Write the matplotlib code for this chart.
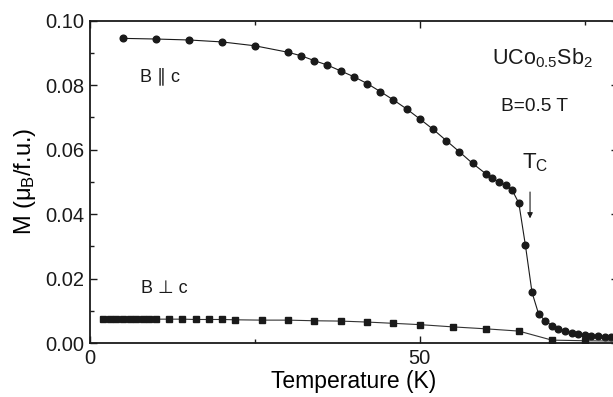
import matplotlib.pyplot as plt
from matplotlib.ticker import MultipleLocator, FormatStrFormatter

plt.rcParams.update({"font.family": ["Liberation Sans", "DejaVu Sans"], "font.size": 12,
                     "mathtext.fontset": "custom", "mathtext.rm": "Liberation Sans",
                     "mathtext.it": "Liberation Sans", "mathtext.bf": "Liberation Sans:bold"})
INK = "#1a1a1a"

# B || c (circles)
t_par = [5, 10, 15, 20, 25, 30, 32, 34, 36, 38, 40, 42, 44, 46, 48, 50, 52, 54, 56, 58,
         60, 61, 62, 63, 64, 65, 66, 67, 68, 69, 70, 71, 72, 73, 74, 75, 76, 77, 78, 79]
m_par = [0.0945, 0.0943, 0.0940, 0.0934, 0.0922, 0.0902, 0.0891, 0.0876, 0.0862, 0.0844,
         0.0826, 0.0805, 0.0780, 0.0754, 0.0726, 0.0695, 0.0663, 0.0628, 0.0593, 0.0557,
         0.0525, 0.0512, 0.0498, 0.0489, 0.0474, 0.0434, 0.0303, 0.0157, 0.0090, 0.0069,
         0.0054, 0.0044, 0.0037, 0.0031, 0.0027, 0.0024, 0.0023, 0.0021, 0.0020, 0.0019]

# B perp c (squares)
t_perp = [2, 3, 4, 5, 6, 7, 8, 9, 10, 12, 14, 16, 18, 20, 22, 26, 30, 34, 38, 42, 46,
          50, 55, 60, 65, 70, 75, 80]
m_perp = [0.0074, 0.0074, 0.0074, 0.0074, 0.0074, 0.0074, 0.0074, 0.0074, 0.0074, 0.0074,
          0.0074, 0.0073, 0.0073, 0.0073, 0.0072, 0.0071, 0.0071, 0.0069, 0.0068, 0.0065,
          0.0061, 0.0057, 0.0050, 0.0044, 0.0037, 0.0009, 0.0007, 0.0006]

fig = plt.figure(figsize=(6.13, 3.97), dpi=100)
ax = fig.add_axes([0.1468, 0.136, 0.861, 0.812])

ax.plot(t_par, m_par, "-", color=INK, lw=0.8, marker="o", ms=4.8, mfc=INK, mec=INK, zorder=3)
ax.plot(t_perp, m_perp, "-", color="#333333", lw=0.8, marker="s", ms=4.8, mfc=INK, mec=INK,
        zorder=3)

ax.set_xlim(0, 80)
ax.set_ylim(0, 0.10)
ax.xaxis.set_major_locator(MultipleLocator(50))
ax.xaxis.set_minor_locator(MultipleLocator(25))
ax.yaxis.set_major_locator(MultipleLocator(0.02))
ax.yaxis.set_minor_locator(MultipleLocator(0.01))
ax.yaxis.set_major_formatter(FormatStrFormatter("%.2f"))
ax.tick_params(which="both", direction="in", top=True, right=True, width=1.0, colors=INK,
               labelsize=14.5, pad=4)
ax.tick_params(which="major", length=5)
ax.tick_params(which="minor", length=3)
for s in ax.spines.values():
    s.set_linewidth(1.3)
    s.set_color(INK)

ax.set_xlabel("Temperature (K)", fontsize=16.5, labelpad=2)
ax.set_ylabel(r"M ($\mu_B$/f.u.)", fontsize=17, labelpad=5)

ax.text(7.6, 0.0827, "B \u2225 c", fontsize=13, va="center", ha="left", color=INK)
ax.text(7.8, 0.0169, "B \u22a5 c", fontsize=13, va="center", ha="left", color=INK)
ax.text(61, 0.0885, r"UCo$_{0.5}$Sb$_2$", fontsize=15.5, va="center", ha="left", color=INK)
ax.text(62.3, 0.0734, "B=0.5 T", fontsize=13.8, va="center", ha="left", color=INK)
ax.text(65.5, 0.0558, r"T$_\mathrm{C}$", fontsize=16, va="center", ha="left", color=INK)
ax.annotate("", xy=(66.7, 0.0378), xytext=(66.7, 0.0477),
            arrowprops=dict(arrowstyle="-|>", color=INK, lw=0.8, mutation_scale=8))

fig.savefig("out.png", dpi=100)
